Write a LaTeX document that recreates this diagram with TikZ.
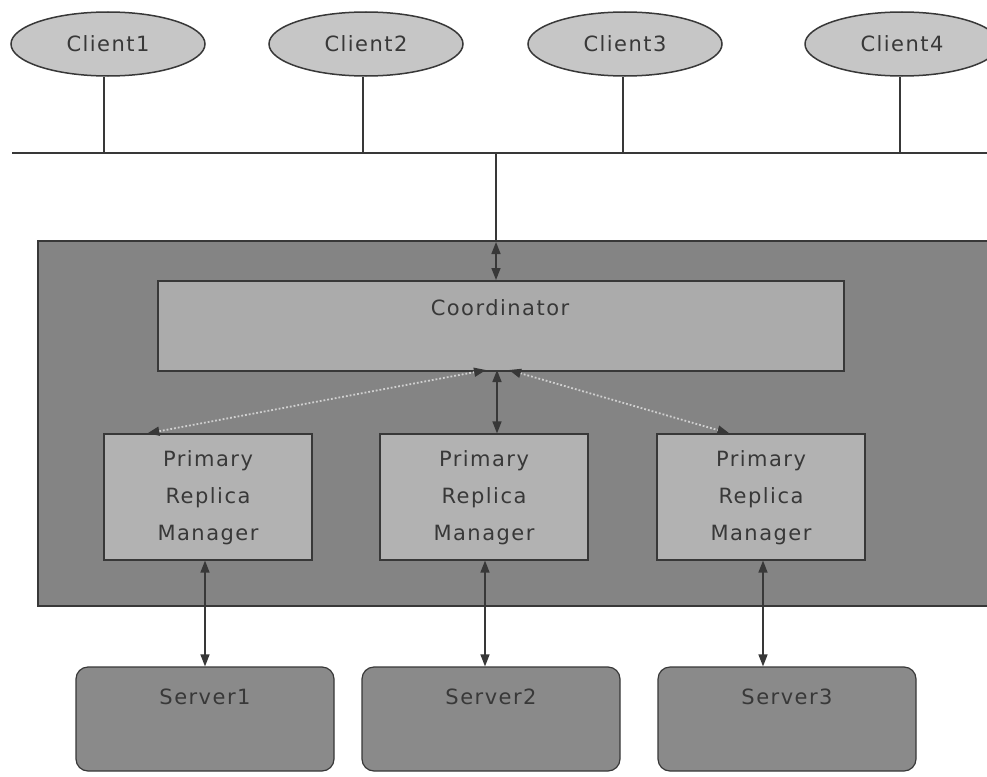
\documentclass[tikz,border=0pt]{standalone}
\usepackage{fontspec}
\newfontfamily\dfont[LetterSpace=7]{DejaVu Sans}
\usetikzlibrary{arrows.meta,shapes.geometric}
\definecolor{txt}{HTML}{383838}
\definecolor{ellfill}{HTML}{C6C6C6}
\definecolor{outer}{HTML}{848484}
\definecolor{coordfill}{HTML}{ABABAB}
\definecolor{prmfill}{HTML}{B2B2B2}
\definecolor{srvfill}{HTML}{8A8A8A}
\definecolor{edge}{HTML}{383838}
\definecolor{dotc}{HTML}{D0D0D0}
\tikzset{
  x=1pt,y=-1pt,
  lbl/.style={font=\dfont\fontsize{21}{37}\selectfont, text=txt},
  client/.style={ellipse, draw=edge, line width=1.5pt, fill=ellfill, minimum width=194, minimum height=64, inner sep=0pt},
  prm/.style={rectangle, draw=edge, line width=1.2pt, fill=prmfill, minimum width=208, minimum height=126, inner sep=0pt},
  server/.style={rectangle, rounded corners=12pt, draw=edge, line width=1.2pt, fill=srvfill, minimum width=258, minimum height=104, inner sep=0pt},
  wire/.style={draw=edge, line width=1.5pt},
  biarrow/.style={draw=edge, line width=1.5pt, {Triangle[length=12pt,width=9pt]}-{Triangle[length=12pt,width=9pt]}},
  dotarrow/.style={draw=dotc, line width=1.8pt, dotted, {Triangle[length=12pt,width=9pt,color=edge,fill=edge]}-{Triangle[length=12pt,width=9pt,color=edge,fill=edge]}},
}
\begin{document}
\begin{tikzpicture}
\useasboundingbox[fill=white] (0,0) rectangle (987,776);
% clients
\node[client] (c1) at (108,44) {};
\node[client] (c2) at (366,44) {};
\node[client] (c3) at (625,44) {};
\node[client] (c4) at (902,44) {};
\node[lbl] at (c1) {Client1};
\node[lbl] at (c2) {Client2};
\node[lbl] at (c3) {Client3};
\node[lbl] at (c4) {Client4};
% bus
\coordinate (busL) at (12,153);
\coordinate (busR) at (987,153);
\draw[wire] (busL) -- (busR);
\coordinate (b1) at (104,153);
\coordinate (b2) at (363,153);
\coordinate (b3) at (623,153);
\coordinate (b4) at (900,153);
\draw[wire] (c1.south -| b1) -- (b1);
\draw[wire] (c2.south -| b2) -- (b2);
\draw[wire] (c3.south -| b3) -- (b3);
\draw[wire] (c4.south -| b4) -- (b4);
% outer box
\node[rectangle, draw=edge, line width=1.5pt, fill=outer, minimum width=960, minimum height=365, inner sep=0pt, anchor=north west] (outerbox) at (37,240) {};
% coordinator
\node[rectangle, draw=edge, line width=1.5pt, fill=coordfill, minimum width=686, minimum height=90, inner sep=0pt, anchor=north west] (coord) at (157,280) {};
\node[lbl, anchor=center] at (500,308) {Coordinator};
\coordinate (bc) at (496,153);
\coordinate (bmid) at (496,242);
\draw[wire] (bc) -- (bmid);
\draw[biarrow] (bmid) -- (bmid |- coord.north);
% primary replica managers
\node[prm] (p1) at (208,497) {};
\node[prm] (p2) at (484,497) {};
\node[prm] (p3) at (761,497) {};
\foreach \p in {p1,p2,p3}{
  \node[lbl, align=center] at ([yshift=-1]\p.center) {Primary\\Replica\\Manager};
}
\coordinate (cm) at (497,370);
\coordinate (cl) at (486,370);
\coordinate (cr) at (509,370);
\draw[biarrow] (cm) -- (cm |- p2.north);
\draw[dotarrow] (cl) -- ([xshift=44]p1.north west);
\draw[dotarrow] (cr) -- ([xshift=73]p3.north west);
% servers
\node[server] (s1) at (205,719) {};
\node[server] (s2) at (491,719) {};
\node[server] (s3) at (787,719) {};
\node[lbl] at ([yshift=22]s1.center) {Server1};
\node[lbl] at ([yshift=22]s2.center) {Server2};
\node[lbl] at ([yshift=22]s3.center) {Server3};
\draw[biarrow] ([xshift=-3]p1.south) -- (s1.north);
\draw[biarrow] ([xshift=1]p2.south) -- ([xshift=-6]s2.north);
\draw[biarrow] ([xshift=2]p3.south) -- ([xshift=-24]s3.north);
\end{tikzpicture}
\end{document}
